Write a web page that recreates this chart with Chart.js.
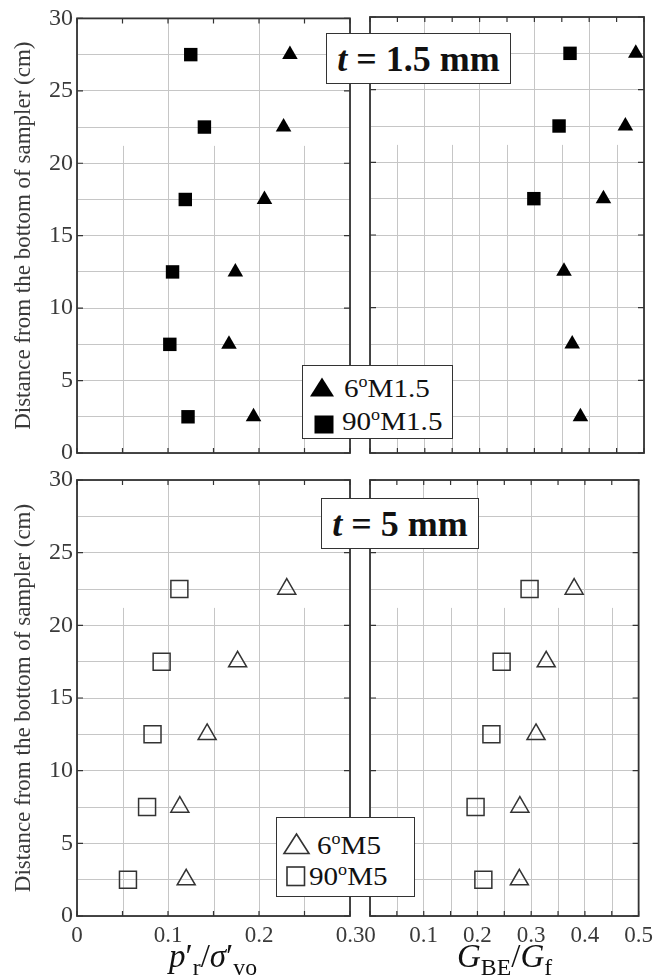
<!DOCTYPE html>
<html>
<head>
<meta charset="utf-8">
<script src="https://cdn.jsdelivr.net/npm/chart.js@4.4.1/dist/chart.umd.min.js"></script>
<style>
  body { margin: 0; background: #fff; }
  #wrap { position: relative; width: 659px; height: 979px; overflow: hidden; background: #fff;
          font-family: "Liberation Serif", "Times New Roman", serif; color: #111; }
  #wrap canvas { position: absolute; left: 0; top: 0; }
  .box { position: absolute; background: #fff; border: 1.5px solid #333; box-sizing: border-box; }
  .tbox { display: flex; align-items: center; justify-content: center; font-weight: bold;
          font-size: 36px; white-space: nowrap; line-height: 1; }
  .lt { position: absolute; font-size: 26px; line-height: 1; white-space: nowrap;
        transform: scaleX(1.12); transform-origin: left center; }
  .lt sup { font-size: 0.62em; line-height: 0; vertical-align: 0.6em; }
  .mk { position: absolute; overflow: visible; }
  .xt { position: absolute; font-size: 33px; line-height: 1; white-space: nowrap; }
  .xt sub { font-size: 0.72em; line-height: 0; vertical-align: -0.35em; font-style: normal; }
</style>
</head>
<body>
<div id="wrap">
  <canvas id="cTL" width="659" height="979"></canvas>
  <canvas id="cTR" width="659" height="979"></canvas>
  <canvas id="cBL" width="659" height="979"></canvas>
  <canvas id="cBR" width="659" height="979"></canvas>

  <div class="box tbox" style="left:326px;top:33px;width:185px;height:51px;"><i>t</i>&nbsp;= 1.5 mm</div>
  <div class="box tbox" style="left:321px;top:498px;width:158px;height:51px;"><i>t</i>&nbsp;= 5 mm</div>

  <div class="box" style="left:302px;top:365px;width:151px;height:74px;">
    <svg class="mk" style="left:7px;top:11px;" width="25" height="21"><polygon points="12,0.5 24,19.5 0,19.5" fill="#000"/></svg>
    <div class="lt" style="left:41px;top:10px;">6<sup>o</sup>M1.5</div>
    <svg class="mk" style="left:11px;top:49px;" width="21" height="20"><rect x="0.5" y="0.5" width="19" height="18" fill="#000"/></svg>
    <div class="lt" style="left:39px;top:43px;">90<sup>o</sup>M1.5</div>
  </div>

  <div class="box" style="left:276px;top:817px;width:139px;height:80px;">
    <svg class="mk" style="left:6px;top:15px;" width="28" height="23"><polygon points="13.5,1 26,20.5 1,20.5" fill="none" stroke="#333" stroke-width="1.6"/></svg>
    <div class="lt" style="left:40px;top:15px;">6<sup>o</sup>M5</div>
    <svg class="mk" style="left:9px;top:48px;" width="20" height="21"><rect x="1" y="1" width="17.5" height="18.5" fill="none" stroke="#333" stroke-width="1.6"/></svg>
    <div class="lt" style="left:32px;top:46px;">90<sup>o</sup>M5</div>
  </div>

  <div class="xt" style="left:169px;top:940px;"><i>p</i>′<sub>r</sub>/<i>σ</i>′<sub>vo</sub></div>
  <div class="xt" style="left:457px;top:940px;"><i>G</i><sub>BE</sub>/<i>G</i><sub>f</sub></div>
</div>

<script>
// ---------------- data ----------------
const depthM15 = [27.5, 22.5, 17.5, 12.5, 7.5, 2.5];        // cm, t = 1.5 mm
const pr_6M15  = [0.234, 0.227, 0.206, 0.174, 0.167, 0.194]; // p'r/σ'vo
const pr_90M15 = [0.125, 0.140, 0.119, 0.105, 0.102, 0.122];
const g_6M15   = [0.485, 0.466, 0.426, 0.354, 0.369, 0.384]; // GBE/Gf
const depthG90M15 = [27.5, 22.5, 17.5];
const g_90M15  = [0.365, 0.345, 0.299];

const depthM5  = [22.5, 17.5, 12.5, 7.5, 2.5];               // cm, t = 5 mm
const pr_6M5   = [0.2305, 0.1765, 0.143, 0.113, 0.120];
const pr_90M5  = [0.1125, 0.093, 0.083, 0.077, 0.056];
const g_6M5    = [0.380, 0.328, 0.309, 0.279, 0.278];
const g_90M5   = [0.297, 0.245, 0.226, 0.1965, 0.211];

const yTickLabels = ['0', '5', '10', '15', '20', '25', '30'];
const yTitle = 'Distance from the bottom of sampler (cm)';

// ---------------- styling ----------------
Chart.defaults.font.family = '"Liberation Serif", "Times New Roman", serif';
const GRID = '#c6c6c6';
const AXIS = '#333';
const TXT = '#3a3a3a';
const MINOR_TOP = 21.2;

function isMinor(v) { return Math.round(v * 100) % 10 === 5; }
function pts(xs, ys) { return xs.map((x, i) => ({ x: x, y: ys[i] })); }

const framePlugin = {
  id: 'frame',
  beforeDatasetsDraw(chart) {
    const { ctx, chartArea: a, scales: { x, y } } = chart;
    ctx.save();
    ctx.lineWidth = 1;
    ctx.strokeStyle = GRID;
    const yS = y.getPixelForValue(MINOR_TOP);
    x.ticks.forEach(t => {
      if (isMinor(t.value)) {
        const px = Math.round(x.getPixelForValue(t.value)) + 0.5;
        ctx.beginPath(); ctx.moveTo(px, yS); ctx.lineTo(px, a.bottom); ctx.stroke();
      }
    });
    ctx.strokeStyle = AXIS;
    ctx.lineWidth = 1.2;
    x.ticks.forEach(t => {
      const px = x.getPixelForValue(t.value);
      ctx.beginPath(); ctx.moveTo(px, a.top); ctx.lineTo(px, a.top + 5);
      ctx.moveTo(px, a.bottom); ctx.lineTo(px, a.bottom - 5); ctx.stroke();
    });
    y.ticks.forEach(t => {
      if (Math.round(t.value * 10) % 50 === 0) {
        const py = y.getPixelForValue(t.value);
        ctx.beginPath(); ctx.moveTo(a.left, py); ctx.lineTo(a.left + 6, py);
        ctx.moveTo(a.right, py); ctx.lineTo(a.right - 6, py); ctx.stroke();
      }
    });
    ctx.lineWidth = 1.8;
    ctx.strokeRect(a.left, a.top, a.right - a.left, a.bottom - a.top);
    ctx.restore();
  }
};

function makeChart(id, o) {
  return new Chart(document.getElementById(id), {
    type: 'scatter',
    data: { datasets: o.datasets },
    plugins: [framePlugin],
    options: {
      responsive: false, animation: false, events: [],
      layout: { padding: o.pad },
      plugins: { legend: { display: false }, tooltip: { enabled: false } },
      scales: {
        x: {
          type: 'linear', min: 0, max: o.xMax,
          afterFit: s => { s.height = o.xh; },
          ticks: {
            stepSize: 0.05, autoSkip: false, maxRotation: 0, minRotation: 0,
            display: o.showX, padding: 6, color: TXT, font: { size: 23 },
            callback: v => (Math.round(v * 100) % 10 === 0) ? String(+v.toFixed(1)) : ''
          },
          grid: { color: c => (c.tick && isMinor(c.tick.value)) ? 'rgba(0,0,0,0)' : GRID, drawTicks: false, lineWidth: 1 },
          border: { display: false }
        },
        y: {
          type: 'linear', min: 0, max: 30,
          afterFit: s => { s.width = o.yw; },
          ticks: {
            stepSize: 2.5, autoSkip: false, display: o.showY, padding: 4, color: TXT, font: { size: 24 },
            callback: v => { const s = String(v); return yTickLabels.includes(s) ? s : ''; }
          },
          title: { display: o.showY, text: yTitle, color: TXT, font: { size: 23 }, padding: 0 },
          grid: { color: GRID, drawTicks: false, lineWidth: 1 },
          border: { display: false }
        }
      }
    }
  });
}

const triFill = { pointStyle: 'triangle', pointRadius: 9, backgroundColor: '#000', borderColor: '#000', borderWidth: 0, clip: false };
const sqFill  = { pointStyle: 'rect', pointRadius: 9.5, backgroundColor: '#000', borderColor: '#000', borderWidth: 0, clip: false };
const triOpen = { pointStyle: 'triangle', pointRadius: 10.4, backgroundColor: 'rgba(0,0,0,0)', borderColor: '#333', borderWidth: 1.5, clip: false };
const sqOpen  = { pointStyle: 'rect', pointRadius: 12, backgroundColor: 'rgba(0,0,0,0)', borderColor: '#333', borderWidth: 1.5, clip: false };

makeChart('cTL', {
  xMax: 0.3, showX: false, showY: true, xh: 0, yw: 67,
  pad: { left: 10, right: 309, top: 17, bottom: 526 },
  datasets: [
    Object.assign({ label: '6°M1.5', data: pts(pr_6M15, depthM15) }, triFill),
    Object.assign({ label: '90°M1.5', data: pts(pr_90M15, depthM15) }, sqFill)
  ]
});
makeChart('cTR', {
  xMax: 0.5, showX: false, showY: false, xh: 0, yw: 0,
  pad: { left: 370, right: 15, top: 17, bottom: 526 },
  datasets: [
    Object.assign({ label: '6°M1.5', data: pts(g_6M15, depthM15) }, triFill),
    Object.assign({ label: '90°M1.5', data: pts(g_90M15, depthG90M15) }, sqFill)
  ]
});
makeChart('cBL', {
  xMax: 0.3, showX: true, showY: true, xh: 63, yw: 67,
  pad: { left: 10, right: 309, top: 480, bottom: 0 },
  datasets: [
    Object.assign({ label: '6°M5', data: pts(pr_6M5, depthM5) }, triOpen),
    Object.assign({ label: '90°M5', data: pts(pr_90M5, depthM5) }, sqOpen)
  ]
});
makeChart('cBR', {
  xMax: 0.5, showX: true, showY: false, xh: 63, yw: 0,
  pad: { left: 370, right: 15, top: 480, bottom: 0 },
  datasets: [
    Object.assign({ label: '6°M5', data: pts(g_6M5, depthM5) }, triOpen),
    Object.assign({ label: '90°M5', data: pts(g_90M5, depthM5) }, sqOpen)
  ]
});
</script>
</body>
</html>
